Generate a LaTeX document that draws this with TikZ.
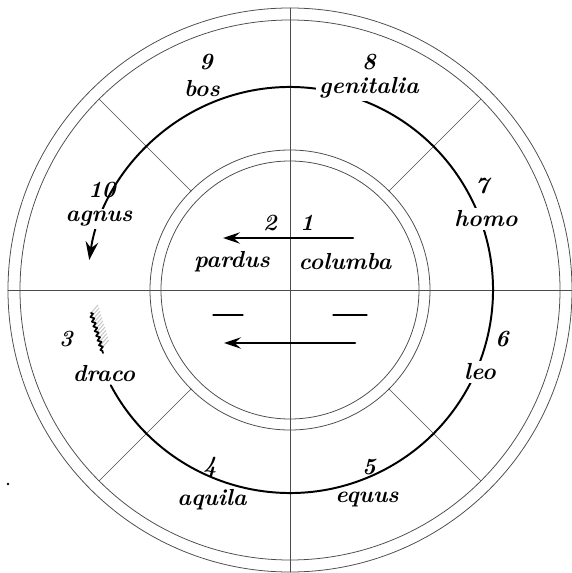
\documentclass[tikz,border=0pt]{standalone}
\usetikzlibrary{arrows.meta,calc,decorations.pathmorphing}

\begin{document}
\begin{tikzpicture}[
    x=0.025cm, y=0.025cm,
    line cap=round,
    line join=round,
    ring/.style={gray!60!black,line width=0.55pt},
    rule/.style={gray!60!black,line width=0.5pt},
    route/.style={line width=1.4pt,black},
    lbl/.style={font=\fontsize{16.5}{18}\selectfont\bfseries\itshape,inner sep=1pt},
    cover/.style={lbl,fill=white,inner sep=2pt},
    flow/.style={-{Stealth[length=12pt,width=8pt,inset=4.5pt]},line width=1.8pt}
]
\useasboundingbox (-290,-283) rectangle (282,290);

% rings
\draw[ring] (0,0) circle[radius=282];
\draw[ring] (0,0) circle[radius=270];
\draw[ring] (0,0) circle[radius=140];
\draw[ring] (0,0) circle[radius=129];

% cross and diagonals
\draw[rule] (0,282) -- (0,-282);
\draw[rule] (-282,0) -- (282,0);
\foreach \a in {45,135,225,315}
    \draw[rule] (\a:140) -- (\a:270);

% the round path, 3 to 10
\draw[route,-{Stealth[length=13pt,width=9pt,inset=4.5pt]}] (208:203) arc[start angle=208,end angle=531.5,radius=203];

% outer labels
\node[lbl] (n9) at (-84,228) {9};
\node[lbl] (n8) at (79,228) {8};
\node[lbl] (bos) at (-88,201) {bos};
\node[cover] (genitalia) at (79,202) {genitalia};
\node[lbl] (n10) at (-188,100) {10};
\node[cover] (agnus) at (-191,71) {agnus};
\node[lbl] (n7) at (192,104) {7};
\node[cover] (homo) at (196,71) {homo};
\node[lbl] (n3) at (-224,-49) {3};
\node[lbl] (draco) at (-186,-84) {draco};
\node[lbl] (n6) at (212,-49) {6};
\node[cover] (leo) at (190,-82) {leo};
\node[lbl] (n4) at (-80,-177) {4};
\node[lbl] (n5) at (79,-177) {5};
\node[lbl] (aquila) at (-78,-210) {aquila};
\node[lbl] (equus) at (77,-210) {equus};

% inner labels and arrows
\node[lbl] (n2) at (-20,67) {2};
\node[lbl] (n1) at (17,67) {1};
\node[lbl] (pardus) at (-58,28) {pardus};
\node[lbl] (columba) at (55,28) {columba};
\coordinate (upfrom) at (63,52);
\coordinate (upto) at (-67,52);
\coordinate (lowfrom) at (65,-53);
\coordinate (lowto) at (-66,-53);
\draw[flow] (upfrom) -- (upto);
\draw[flow] (lowfrom) -- (lowto);
\coordinate (dashla) at (-77,-25);
\coordinate (dashlb) at (-47,-25);
\coordinate (dashra) at (43,-25);
\coordinate (dashrb) at (77,-25);
\draw[line width=0.9pt] (dashla) -- (dashlb);
\draw[line width=0.9pt] (dashra) -- (dashrb);

% draco mark
\coordinate (drtop) at (-199,-23);
\coordinate (drbot) at (-187,-63);
\foreach \t in {0,0.08,...,0.9}
    \draw[gray!45,line width=0.7pt] ($(drtop)!\t!(drbot)$) -- ++(7,8);
\draw[line width=1.2pt,decorate,decoration={zigzag,segment length=3.5pt,amplitude=1.2pt}] (drtop) -- (drbot);

\fill (-282,-194) circle[radius=1.3];
\end{tikzpicture}
\end{document}
